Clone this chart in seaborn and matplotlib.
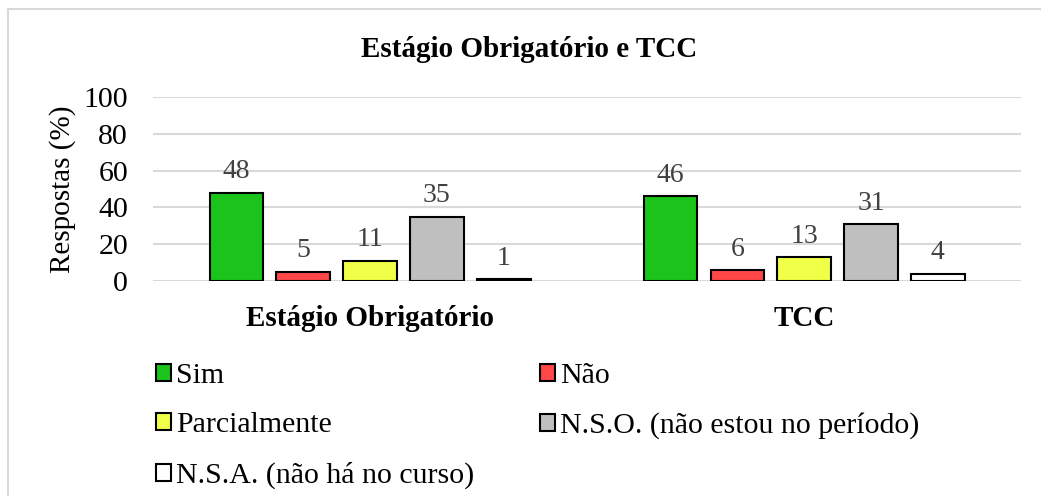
import pandas as pd
import matplotlib
matplotlib.use("Agg")
import matplotlib.pyplot as plt
import seaborn as sns
from matplotlib.lines import Line2D

# Chart data
CATEGORIES = ["Estágio Obrigatório", "TCC"]
RESPONSES = ["Sim", "Não", "Parcialmente",
             "N.S.O. (não estou no período)", "N.S.A. (não há no curso)"]
ESTAGIO = [48, 5, 11, 35, 1]
TCC = [46, 6, 13, 31, 4]
COLORS = ["#1BC41B", "#FF4747", "#F0FF47", "#BFBFBF", "#FFFFFF"]
Y_TICKS = [0, 20, 40, 60, 80, 100]

sns.set_theme(style="white")
plt.rcParams["font.family"] = ["Liberation Serif", "DejaVu Serif"]
plt.rcParams.update({"text.color": "black", "axes.labelcolor": "black",
                     "xtick.color": "black", "ytick.color": "black"})

rows = []
for cat, vals in zip(CATEGORIES, [ESTAGIO, TCC]):
    for resp, v in zip(RESPONSES, vals):
        rows.append({"categoria": cat, "resposta": resp, "valor": v})
df = pd.DataFrame(rows)

fig = plt.figure(figsize=(10.41, 4.96), dpi=100)
ax = fig.add_axes([0.147, 0.4335, 0.834, 0.371])

sns.barplot(data=df, x="categoria", y="valor", hue="resposta",
            hue_order=RESPONSES, palette=COLORS, order=CATEGORIES,
            width=0.77, gap=0.2, edgecolor="black", linewidth=1.5,
            saturation=1, ax=ax)

for cont in ax.containers:
    ax.bar_label(cont, fmt="%d", padding=6, fontsize=20, color="#404040")

ax.set_ylim(0, 100)
ax.set_xlim(-0.5, 1.5)
ax.set_yticks(Y_TICKS)
ax.yaxis.grid(True, color="#D9D9D9", linewidth=1.5)
ax.set_axisbelow(True)
for s in ax.spines.values():
    s.set_visible(False)
ax.tick_params(axis="y", length=0, pad=18, labelsize=21.5, labelcolor="black")
ax.tick_params(axis="x", length=0, pad=17, labelsize=21, labelcolor="black")
for lbl in ax.get_xticklabels():
    lbl.set_fontweight("bold")
ax.set_xlabel("")
ax.set_ylabel("Respostas (%)", fontsize=21, labelpad=5, color="black")

# title centred on the whole chart area, not the plot area
fig.text(0.508, 0.885, "Estágio Obrigatório e TCC", ha="center", va="baseline",
         fontsize=21, fontweight="bold", color="black")

handles, labels = ax.get_legend_handles_labels()
ax.get_legend().remove()
order = [0, 2, 4, 1, 3]
leg = fig.legend([handles[i] for i in order], [labels[i] for i in order],
                 loc="upper left", bbox_to_anchor=(0.150, 0.268), ncol=2,
                 frameon=False, fontsize=21.5, handlelength=0.5, handleheight=0.5,
                 handletextpad=0.17, labelspacing=0.78, columnspacing=2.2,
                 borderpad=0, borderaxespad=0)
for t in leg.get_texts():
    t.set_color("black")

# chart-area border (only top and left edges visible in the crop)
fig.add_artist(Line2D([0.008, 1.0], [0.981, 0.981], transform=fig.transFigure,
                      color="#D9D9D9", linewidth=1.5))
fig.add_artist(Line2D([0.008, 0.008], [0.0, 0.981], transform=fig.transFigure,
                      color="#D9D9D9", linewidth=1.5))

fig.savefig("out.png", dpi=100)
